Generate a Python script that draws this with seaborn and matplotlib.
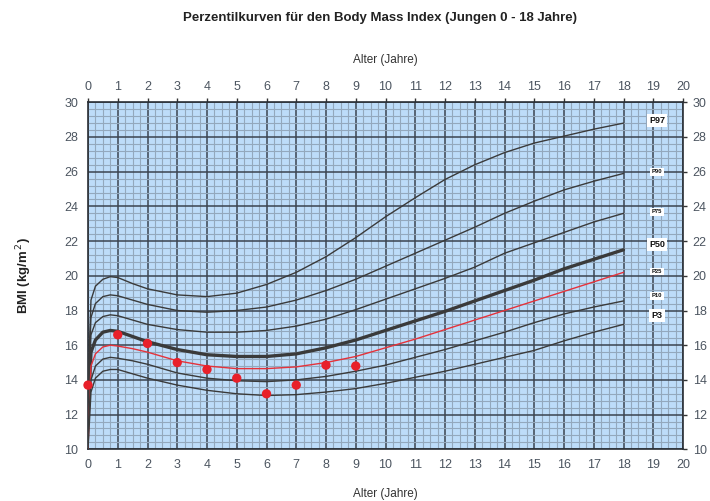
import numpy as np
import pandas as pd
import matplotlib
matplotlib.use("Agg")
import matplotlib.pyplot as plt
from matplotlib.ticker import MultipleLocator
import seaborn as sns

# ---- data ----
ages = [0, 0.1, 0.25, 0.5, 0.75, 1, 1.5, 2, 3, 4, 5, 6, 7, 8, 9, 10, 11, 12, 13, 14, 15, 16, 17, 18]
p97 = [13.5, 18.6, 19.4, 19.8, 19.95, 19.9, 19.55, 19.25, 18.9, 18.8, 19.0, 19.5, 20.2, 21.1, 22.2, 23.4, 24.5, 25.55, 26.4, 27.1, 27.65, 28.05, 28.45, 28.8]
p90 = [13.0, 17.6, 18.4, 18.8, 18.9, 18.85, 18.6, 18.35, 18.0, 17.9, 18.0, 18.2, 18.6, 19.15, 19.8, 20.55, 21.3, 22.05, 22.8, 23.6, 24.3, 24.95, 25.45, 25.9]
p75 = [12.5, 16.6, 17.3, 17.65, 17.75, 17.7, 17.45, 17.2, 16.9, 16.75, 16.75, 16.85, 17.1, 17.5, 18.05, 18.65, 19.25, 19.85, 20.5, 21.3, 21.9, 22.5, 23.1, 23.6]
p50 = [12.0, 15.6, 16.3, 16.75, 16.85, 16.8, 16.5, 16.2, 15.75, 15.45, 15.35, 15.35, 15.5, 15.85, 16.3, 16.85, 17.4, 17.95, 18.55, 19.15, 19.75, 20.4, 20.95, 21.5]
p25 = [10.0, 14.8, 15.5, 15.9, 16.0, 15.95, 15.8, 15.6, 15.1, 14.8, 14.65, 14.65, 14.75, 15.0, 15.35, 15.85, 16.35, 16.9, 17.45, 18.0, 18.55, 19.1, 19.65, 20.2]
p10 = [11.0, 14.0, 14.8, 15.2, 15.3, 15.25, 15.1, 14.9, 14.4, 14.1, 13.95, 13.9, 14.0, 14.2, 14.5, 14.85, 15.3, 15.75, 16.25, 16.75, 17.3, 17.8, 18.2, 18.55]
p3 = [10.0, 13.3, 14.1, 14.5, 14.6, 14.6, 14.35, 14.1, 13.7, 13.4, 13.2, 13.1, 13.15, 13.3, 13.5, 13.8, 14.15, 14.5, 14.9, 15.3, 15.7, 16.25, 16.75, 17.2]

child_age = [0, 1, 2, 3, 4, 5, 6, 7, 8, 9]
child_bmi = [13.7, 16.6, 16.1, 15.0, 14.6, 14.1, 13.2, 13.7, 14.85, 14.8]

labels = ["P97", "P90", "P75", "P50", "P25", "P10", "P3"]
label_y = [28.95, 26.0, 23.7, 21.8, 20.25, 18.85, 17.7]

series = {"P97": p97, "P90": p90, "P75": p75, "P50": p50, "P25": p25, "P10": p10, "P3": p3}
df = pd.concat([pd.DataFrame({"Alter": ages, "BMI": v, "Perzentil": k}) for k, v in series.items()],
               ignore_index=True)
child = pd.DataFrame({"Alter": child_age, "BMI": child_bmi})

# ---- figure ----
sns.set_style("white")
plt.rcParams["font.family"] = ["Liberation Sans", "DejaVu Sans"]

fig = plt.figure(figsize=(7.10, 5.01), dpi=100)
ax = fig.add_axes([88 / 710, 1 - 449.3 / 501, (683 - 88) / 710, (449.3 - 102.3) / 501])
ax.set_facecolor("#bddcf9")

ax.set_xlim(0, 20)
ax.set_ylim(10, 30)
ax.xaxis.set_major_locator(MultipleLocator(1))
ax.xaxis.set_minor_locator(MultipleLocator(0.25))
ax.yaxis.set_major_locator(MultipleLocator(2))
ax.yaxis.set_minor_locator(MultipleLocator(0.4))
ax.grid(True, which="minor", color="#93a8bd", lw=0.8, zorder=0)
ax.grid(True, which="major", color="#3b4450", lw=1.1, zorder=0)
ax.set_axisbelow(True)

palette = {k: "#3a3a3a" for k in labels}
palette["P25"] = "#e5323a"
sizes = {k: 1.0 for k in labels}
sizes["P50"] = 2.4
sizes["P25"] = 1.0
sns.lineplot(data=df, x="Alter", y="BMI", hue="Perzentil", size="Perzentil",
             palette=palette, sizes=sizes, legend=False, ax=ax, zorder=3)

sns.scatterplot(data=child, x="Alter", y="BMI", color="#e8202a", s=45, marker="o",
                edgecolor="none", ax=ax, zorder=5, clip_on=False)

for lab, yv in zip(labels, label_y):
    big = lab in ("P97", "P50", "P3")
    ax.text(19.13, yv, lab, ha="center", va="center", fontsize=6.5 if big else 4.2,
            fontweight="bold", color="#111111", zorder=6,
            bbox=dict(boxstyle="square,pad=0.25", fc="white", ec="none"))

tick_col = "#4c5560"
ax.tick_params(axis="both", which="major", direction="out", length=3, width=1,
               color="#333333", labelsize=9, labelcolor=tick_col,
               top=True, right=True, labeltop=True, labelright=True, pad=4)
ax.tick_params(axis="both", which="minor", length=0)
for s in ax.spines.values():
    s.set_color("#2a2f36")
    s.set_linewidth(1.2)

ax.set_xlabel("Alter (Jahre)", fontsize=8.5, color="#333333", labelpad=12)
ax.set_ylabel("BMI (kg/m$^{\\,2}$)", fontsize=9.5, fontweight="bold", color="#222222", labelpad=22)
sec = ax.secondary_xaxis("top")
sec.set_xticks([])
sec.set_xlabel("Alter (Jahre)", fontsize=8.5, color="#333333", labelpad=28)
sec.spines["top"].set_visible(False)

fig.text(0.535, 1 - 18 / 501, "Perzentilkurven für den Body Mass Index (Jungen 0 - 18 Jahre)",
         ha="center", va="center", fontsize=9.5, fontweight="bold", color="#222222")

fig.savefig("out.png", dpi=100, facecolor="white")
